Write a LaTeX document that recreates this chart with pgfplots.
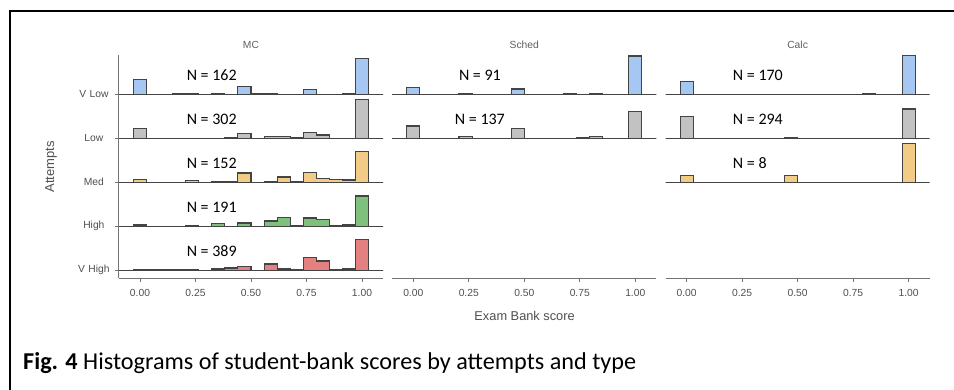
\documentclass[border=0pt]{standalone}
\usepackage{fontspec}
\setmainfont{Liberation Sans}
\newfontfamily\carlito{Carlito}
\usepackage{pgfplots}
\usepackage{pgfplotstable}
\pgfplotsset{compat=1.18}

\definecolor{cVL}{RGB}{166,199,241}
\definecolor{cLo}{RGB}{194,194,194}
\definecolor{cMe}{RGB}{242,203,134}
\definecolor{cHi}{RGB}{128,192,125}
\definecolor{cVH}{RGB}{227,128,128}
\definecolor{ln}{RGB}{68,68,68}
\definecolor{axg}{RGB}{115,115,115}
\definecolor{txg}{RGB}{80,80,80}
\definecolor{stg}{RGB}{95,95,95}

% heights in pixels above each row's baseline (row spacing = 44 px), bins centred at k/17
\pgfplotstableread{
k  vl    lo    me    hi    vh
-2 0     0     0     0     0
-1 0     0     0     0     0
0  15    9.7   2.7   1.3   0.7
1  0     0     0     0     0.3
2  0     0     0     0     0.3
3  0.7   0     0     0     0.7
4  1     0     1.7   0.7   1
5  0     0     0     0     0
6  1     0     0.7   2.7   1.3
7  0     1     0.3   0     2.3
8  7.7   5     9.3   3.3   4
9  1     0     0     0     0
10 0.7   2     0.7   5.3   6.3
11 0     1.7   5.3   9     1.3
12 0     1     0.5   1     1
13 5     6     10    8.3   12.7
14 0     3.3   4     7     9.3
15 0     0     3     0.7   0.7
16 0.7   0     2.3   1.3   1.3
17 36    39    31    30.3  31
18 0     0     0     0     0
19 0     0     0     0     0
}\mcdata

\pgfplotstableread{
k  vl    lo
-2 0     0
-1 0     0
0  7     12.3
1  0     0
2  0     0
3  0     0
4  1     2
5  0     0
6  0     0
7  0     0
8  5.3   10
9  0     0
10 0     0
11 0     0
12 0.7   0
13 0     1
14 0.7   1.7
15 0     0
16 0     0
17 38.3  27
18 0     0
19 0     0
}\scdata

\pgfplotstableread{
k  vl    lo    me
-2 0     0     0
-1 0     0     0
0  12.7  21.7  6.7
1  0     0     0
2  0     0     0
3  0     0     0
4  0     0     0
5  0     0     0
6  0     0     0
7  0     0     0
8  0     1     6.7
9  0     0     0
10 0     0     0
11 0     0     0
12 0     0     0
13 0     0     0
14 0.7   0     0
15 0     0     0
16 0     0     0
17 38.7  29.3  39
18 0     0     0
19 0     0     0
}\cadata

\pgfplotsset{
  ridge/.style={const plot mark mid, mark=none, draw=ln, line width=1.05bp, line join=miter},
  panel/.style={
    scale only axis, width=264.18bp, height=223.3bp,
    xmin=-0.095, xmax=1.095, ymin=0.825, ymax=5.9,
    axis x line*=bottom,
    x axis line style={draw=axg, line width=0.9bp, -},
    xtick={0,0.25,0.5,0.75,1},
    xticklabels={0.00,0.25,0.50,0.75,1.00},
    tick style={draw=axg, line width=0.9bp},
    tick align=outside, major tick length=3.5bp,
    tick label style={font=\fontsize{10.3bp}{12bp}\selectfont, text=txg},
    xticklabel style={yshift=-4.5bp},
  },
}
\tikzset{nlab/.style={font=\carlito\fontsize{16bp}{18bp}\selectfont, text=black, inner sep=0pt}}

\begin{document}
\begin{tikzpicture}
\path[use as bounding box] (0bp,0bp) rectangle (954bp,-390bp);
\fill[white] (0bp,0bp) rectangle (954bp,-390bp);
\draw[line width=2bp, black] (954bp,-11bp) -- (10bp,-11bp) -- (10bp,-390bp);

% ---------- MC ----------
\begin{axis}[panel, at={(118.9bp,-54.7bp)}, anchor=north west,
  axis y line*=left, y axis line style={draw=axg, line width=0.9bp, -},
  ytick={1,2,3,4,5}, yticklabels={V High,High,Med,Low,V Low},
  yticklabel style={anchor=east, text width=36bp, align=center}]
  \addplot[ridge, fill=cVL] table[x expr=\thisrow{k}/17, y expr=5+\thisrow{vl}/44]{\mcdata} -- cycle;
  \addplot[ridge, fill=cLo] table[x expr=\thisrow{k}/17, y expr=4+\thisrow{lo}/44]{\mcdata} -- cycle;
  \addplot[ridge, fill=cMe] table[x expr=\thisrow{k}/17, y expr=3+\thisrow{me}/44]{\mcdata} -- cycle;
  \addplot[ridge, fill=cHi] table[x expr=\thisrow{k}/17, y expr=2+\thisrow{hi}/44]{\mcdata} -- cycle;
  \addplot[ridge, fill=cVH] table[x expr=\thisrow{k}/17, y expr=1+\thisrow{vh}/44]{\mcdata} -- cycle;
  \node[nlab, anchor=base] at (axis cs:0.323,5.32) {N = 162};
  \node[nlab, anchor=base] at (axis cs:0.323,4.32) {N = 302};
  \node[nlab, anchor=base] at (axis cs:0.323,3.32) {N = 152};
  \node[nlab, anchor=base] at (axis cs:0.323,2.32) {N = 191};
  \node[nlab, anchor=base] at (axis cs:0.323,1.32) {N = 389};
\end{axis}

% ---------- Sched ----------
\begin{axis}[panel, at={(392.2bp,-54.7bp)}, anchor=north west, hide y axis]
  \addplot[ridge, fill=cVL] table[x expr=\thisrow{k}/17, y expr=5+\thisrow{vl}/44]{\scdata} -- cycle;
  \addplot[ridge, fill=cLo] table[x expr=\thisrow{k}/17, y expr=4+\thisrow{lo}/44]{\scdata} -- cycle;
  \node[nlab, anchor=base] at (axis cs:0.30,5.32) {N = 91};
  \node[nlab, anchor=base] at (axis cs:0.30,4.32) {N = 137};
\end{axis}

% ---------- Calc ----------
\begin{axis}[panel, at={(665.5bp,-54.7bp)}, anchor=north west, hide y axis]
  \addplot[ridge, fill=cVL] table[x expr=\thisrow{k}/17, y expr=5+\thisrow{vl}/44]{\cadata} -- cycle;
  \addplot[ridge, fill=cLo] table[x expr=\thisrow{k}/17, y expr=4+\thisrow{lo}/44]{\cadata} -- cycle;
  \addplot[ridge, fill=cMe] table[x expr=\thisrow{k}/17, y expr=3+\thisrow{me}/44]{\cadata} -- cycle;
  \node[nlab, anchor=base west] at (axis cs:0.208,5.32) {N = 170};
  \node[nlab, anchor=base west] at (axis cs:0.208,4.32) {N = 294};
  \node[nlab, anchor=base west] at (axis cs:0.208,3.32) {N = 8};
\end{axis}

% strip labels
\node[font=\fontsize{10.3bp}{12bp}\selectfont, text=stg] at (251bp,-45bp) {MC};
\node[font=\fontsize{10.3bp}{12bp}\selectfont, text=stg] at (524.3bp,-45bp) {Sched};
\node[font=\fontsize{10.3bp}{12bp}\selectfont, text=stg] at (797.6bp,-45bp) {Calc};

% axis titles
\node[font=\fontsize{12.8bp}{14bp}\selectfont, text=txg] at (524.6bp,-316bp) {Exam Bank score};
\node[font=\fontsize{13bp}{15bp}\selectfont, text=txg, rotate=90] at (51bp,-167bp) {Attempts};

% caption
\node[anchor=base west, inner sep=0pt, font=\carlito\fontsize{24.2bp}{28bp}\selectfont] at (23bp,-369bp)
  {\textbf{Fig. 4} Histograms of student-bank scores by attempts and type};
\end{tikzpicture}
\end{document}
